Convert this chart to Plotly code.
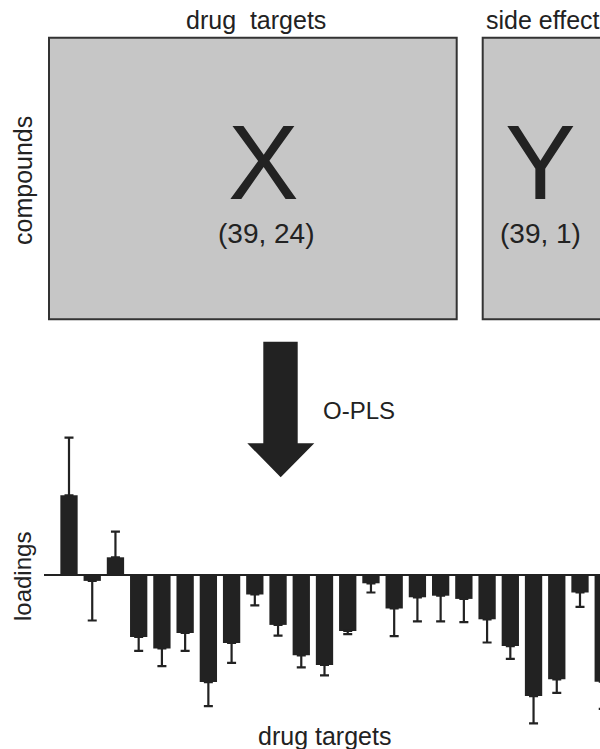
import plotly.graph_objects as go

W, H = 600, 749

# ---- data: O-PLS loadings of the 24 drug targets ----
targets = [f"T{i}" for i in range(1, 25)]
loadings = [0.200, -0.014, 0.045, -0.154, -0.183, -0.144, -0.267, -0.169,
            -0.048, -0.124, -0.200, -0.224, -0.139, -0.020, -0.083, -0.055,
            -0.051, -0.059, -0.110, -0.177, -0.302, -0.260, -0.043, -0.266]
errors = [0.144, 0.099, 0.064, 0.035, 0.044, 0.045, 0.060, 0.050,
          0.027, 0.027, 0.030, 0.026, 0.008, 0.023, 0.069, 0.060,
          0.064, 0.058, 0.058, 0.032, 0.068, 0.034, 0.036, 0.068]

err_up = [e if v >= 0 else 0 for v, e in zip(loadings, errors)]
err_dn = [e if v < 0 else 0 for v, e in zip(loadings, errors)]

DARK = "#222222"
FONT = "Liberation Sans, Arial, Helvetica, sans-serif"


def px(x):
    return x / W


def py(y):
    return 1 - y / H


fig = go.Figure()
fig.add_trace(go.Bar(
    x=targets, y=loadings,
    marker=dict(color=DARK, line=dict(width=0)),
    error_y=dict(type="data", symmetric=False, array=err_up, arrayminus=err_dn,
                 color=DARK, thickness=2.2, width=4.5),
    showlegend=False,
))

shapes = [
    # X block
    dict(type="rect", xref="paper", yref="paper",
         x0=px(49), x1=px(456.7), y0=py(319.3), y1=py(37.7),
         fillcolor="#c6c6c6", line=dict(color="#333333", width=2), layer="below"),
    # Y block (extends past the right edge)
    dict(type="rect", xref="paper", yref="paper",
         x0=px(482.7), x1=px(640), y0=py(319.3), y1=py(37.7),
         fillcolor="#c6c6c6", line=dict(color="#333333", width=2), layer="below"),
]
arrow_pts = [(263.3, 341.7), (297.7, 341.7), (297.7, 443.3), (314.3, 443.3),
             (280.7, 477.3), (247.3, 443.3), (263.3, 443.3)]
path = "M " + " L ".join(f"{px(a):.5f},{py(b):.5f}" for a, b in arrow_pts) + " Z"
shapes.append(dict(type="path", xref="paper", yref="paper", path=path,
                   fillcolor=DARK, line=dict(width=0)))


def ann(text, x, y, size, angle=0, xanchor="center"):
    return dict(text=text, x=px(x), y=py(y), xref="paper", yref="paper",
                showarrow=False, xanchor=xanchor, yanchor="middle", textangle=angle,
                font=dict(family=FONT, size=size, color=DARK))


annotations = [
    ann("drug&nbsp;&nbsp;targets", 256, 20, 25),
    ann("side effect", 484, 20, 25, xanchor="left"),
    ann("compounds", 23, 181, 25, angle=-90),
    ann("X", 263, 162, 106),
    ann("(39, 24)", 266, 234, 28),
    ann("Y", 540, 162, 106),
    ann("(39, 1)", 540, 234, 28),
    ann("O-PLS", 359, 410, 24),
    ann("loadings", 22, 577, 24, angle=-90),
    ann("drug targets", 324, 736, 25),
]

fig.update_layout(
    width=W, height=H,
    margin=dict(l=0, r=0, t=0, b=0),
    paper_bgcolor="white", plot_bgcolor="white",
    bargap=0.255,
    shapes=shapes, annotations=annotations,
    xaxis=dict(domain=[px(44), 1], range=[-1.0763, 22.861], type="category",
               showticklabels=False, showgrid=False, zeroline=False,
               showline=False, ticks=""),
    yaxis=dict(domain=[0, py(430)], range=[-0.43425, 0.36325],
               showticklabels=False, showgrid=False, zeroline=True,
               zerolinecolor=DARK, zerolinewidth=2, showline=False, ticks=""),
)

fig.write_html("out.html",
               config={"displayModeBar": False},
               post_script="document.body.style.margin='0';"
                           "document.body.style.overflow='hidden';")
